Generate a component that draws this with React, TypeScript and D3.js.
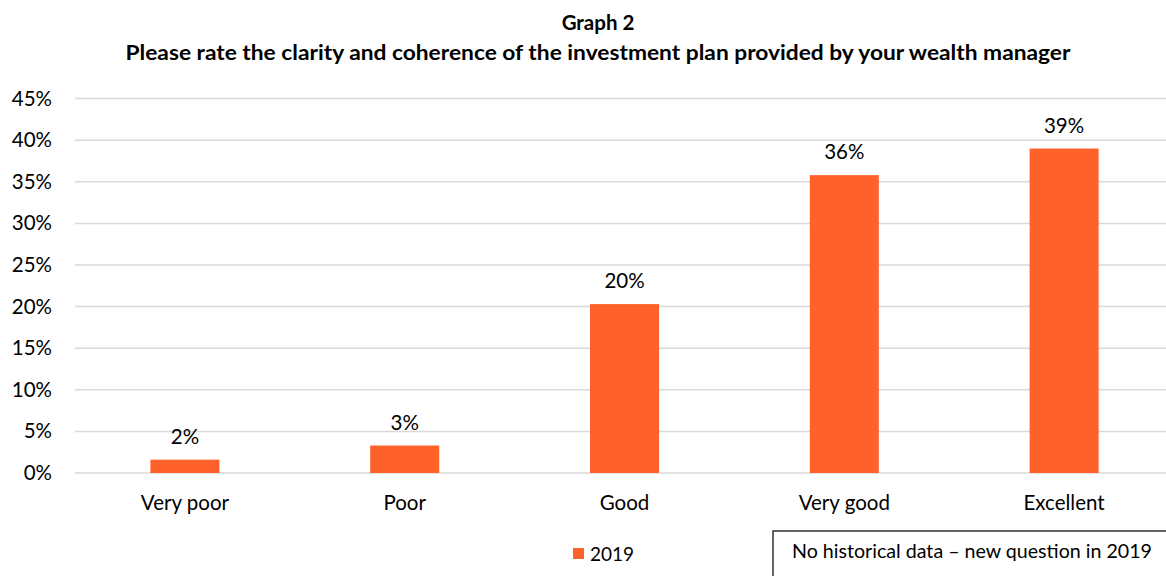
import React from "react";
import * as d3 from "d3";

const categories = ["Very poor", "Poor", "Good", "Very good", "Excellent"];
const values2019 = [1.6, 3.3, 20.3, 35.8, 39.0];
const yTicks = [0, 5, 10, 15, 20, 25, 30, 35, 40, 45];
const titleLine1 = "Graph 2";
const titleLine2 = "Please rate the clarity and coherence of the investment plan provided by your wealth manager";
const legendLabel = "2019";
const noteText = "No historical data \u2013 new question in 2019";

const W = 1166;
const H = 576;
const BAR = "#FF612B";
const FONT = "Lato, 'Open Sans', sans-serif";

export default function App() {
  const x = d3
    .scaleBand<string>()
    .domain(categories)
    .range([75, 1174])
    .paddingInner(0.686)
    .paddingOuter(0.343);
  const y = d3.scaleLinear().domain([0, 45]).range([473, 98.6]);

  return (
    <svg
      width={W}
      height={H}
      style={{ position: "absolute", left: 0, top: 0, background: "#fff", fontFamily: FONT }}
    >
      <rect x={0} y={0} width={W} height={H} fill="#fff" />
      <text x={598} y={30} textAnchor="middle" fontWeight="bold" fontSize={20.5} fill="#000">
        {titleLine1}
      </text>
      <text
        x={598}
        y={60}
        textAnchor="middle"
        fontWeight="bold"
        fontSize={20.5}
        fill="#000"
        textLength={945}
        lengthAdjust="spacingAndGlyphs"
      >
        {titleLine2}
      </text>

      {yTicks.map((t) => (
        <g key={t}>
          <line x1={75} x2={1174} y1={y(t)} y2={y(t)} stroke="#D9D9D9" strokeWidth={1.5} />
          <text x={52} y={y(t) + 7} textAnchor="end" fontSize={20.5} fill="#000">
            {t}%
          </text>
        </g>
      ))}

      {categories.map((c, i) => {
        const v = values2019[i];
        const bx = x(c) as number;
        const bw = x.bandwidth();
        return (
          <g key={c}>
            <rect x={bx} y={y(v)} width={bw} height={y(0) - y(v)} fill={BAR} />
            <text x={bx + bw / 2} y={y(v) - 16} textAnchor="middle" fontSize={20.5} fill="#000">
              {Math.round(v)}%
            </text>
            <text x={bx + bw / 2} y={510} textAnchor="middle" fontSize={20.5} fill="#000">
              {c}
            </text>
          </g>
        );
      })}

      <rect x={573} y={548} width={11} height={11} fill={BAR} />
      <text x={590} y={561} fontSize={19} fill="#000">
        {legendLabel}
      </text>

      <rect x={773} y={531} width={400} height={60} fill="#fff" stroke="#000" strokeWidth={1.2} />
      <text x={792} y={558} fontSize={19} fill="#000" textLength={360} lengthAdjust="spacingAndGlyphs">
        {noteText}
      </text>
    </svg>
  );
}
